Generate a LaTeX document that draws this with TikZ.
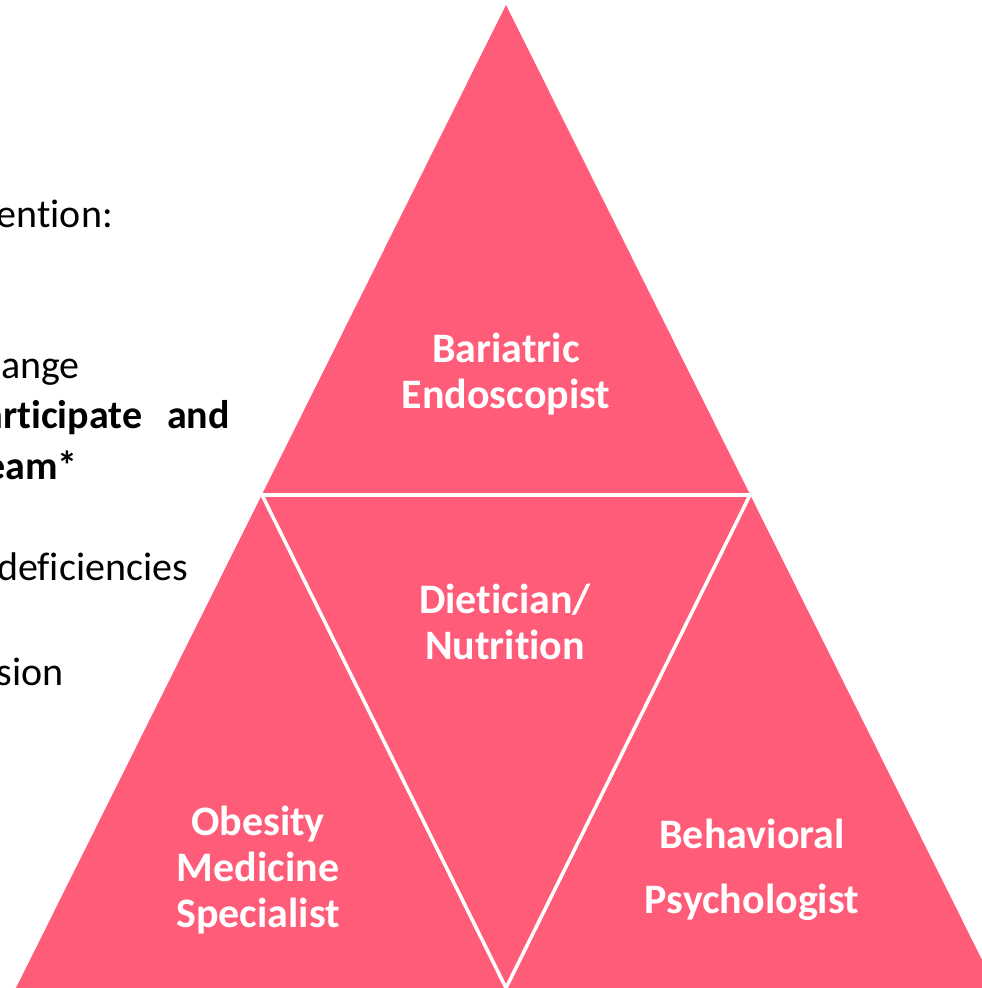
\documentclass[tikz,border=0pt]{standalone}
\usepackage{fontspec}
\setmainfont{Carlito}[Ligatures={NoCommon},RawFeature={-liga;-clig;-calt}]
\definecolor{pyramid}{HTML}{FF5C7A}
\begin{document}
\begin{tikzpicture}[x=1pt,y=-1pt,
  role/.style={text=white,font=\fontsize{42}{46}\selectfont\bfseries,align=center,inner sep=0},
  bodyline/.style={font=\fontsize{40}{50}\selectfont,anchor=base east,inner sep=0},
  boldline/.style={bodyline,font=\fontsize{40}{50}\selectfont\bfseries},
  gap/.style={white,line width=4.5pt},
  slantgap/.style={white,line width=3.5pt}]
\useasboundingbox (0,0) rectangle (982,988);

% pyramid outline and the corners of its four inner triangles
\coordinate (apex) at (506,5);
\coordinate (baseL) at (10,1000);
\coordinate (baseR) at (1002,1000);
\coordinate (midL) at (262,495);
\coordinate (midR) at (750,495);
\coordinate (bottom) at (506,988);

\fill[pyramid] (apex) -- (baseR) -- (baseL) -- cycle;

% white gaps separating the four triangles
\draw[gap] (midL) -- (midR);
\draw[slantgap] (midL) -- (bottom) -- (midR);

% roles
\node[role] (endo) at (506,374) {Bariatric\\Endoscopist};
\node[role] (diet) at (505,622) {Dietician/\\Nutrition};
\node[role] (obes) at (258,870) {Obesity\\Medicine\\Specialist};
\node[role] (psych) at (752,870) {Behavioral\\[19pt]Psychologist};

% justified text running in from the left edge
\node[bodyline] (t1) at (113,227) {ention:};
\node[bodyline] (t2) at (80,378) {ange};
\node[boldline] (t3) at (230,428) {articipate\hspace{25pt}and};
\node[boldline] (t4) at (78,479) {eam*};
\node[bodyline] (t5) at (188,580) {deficiencies};
\node[bodyline] (t6) at (64,685) {sion};
\end{tikzpicture}
\end{document}
